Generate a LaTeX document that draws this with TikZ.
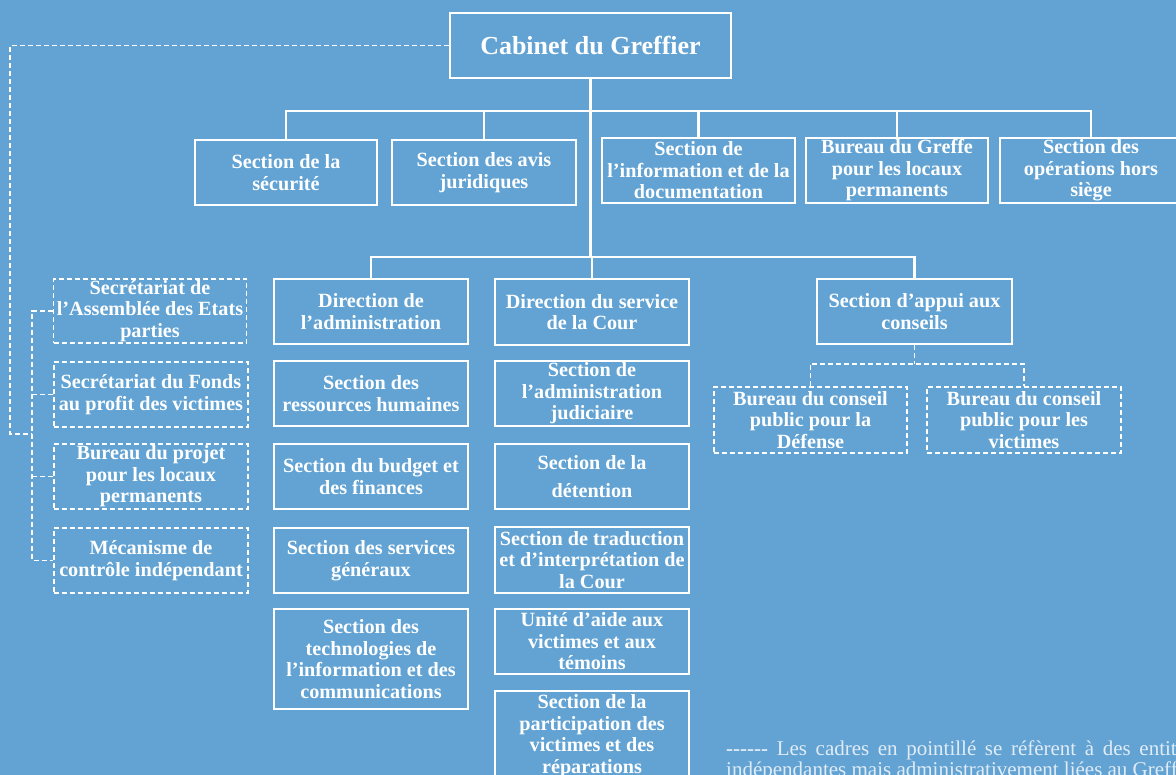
\documentclass[tikz,border=0pt]{standalone}
\usepackage{fontspec}
\setmainfont{Liberation Serif}
\definecolor{bg}{RGB}{98,163,211}
\definecolor{legendtext}{RGB}{225,236,246}
\tikzset{
  basebox/.style={draw=white, text=white, align=center, inner sep=0pt,
    font=\bfseries\fontsize{20.2}{21.5}\selectfont},
  thickbox/.style={basebox, line width=2.6pt},
  thinbox/.style={basebox, line width=1.4pt},
  dbox/.style={basebox, line width=1.4pt, dash pattern=on 5pt off 3pt},
  conn/.style={draw=white, line width=2.6pt},
  dconn/.style={draw=white, line width=1.4pt, dash pattern=on 5pt off 3pt},
}
\begin{document}
\begin{tikzpicture}[x=1pt,y=-1pt]
\fill[bg] (0,0) rectangle (1176,775);
\useasboundingbox (0,0) rectangle (1176,775);
\clip (0,0) rectangle (1176,775);

% top
\node[thickbox, minimum width=281, minimum height=65, font=\bfseries\fontsize{26}{28}\selectfont] (cab) at (590.5,45.5) {Cabinet du Greffier};

% row 1
\node[thickbox, minimum width=182, minimum height=65] (sec) at (286,172.5) {Section de la\\s\'ecurit\'e};
\node[thickbox, minimum width=184, minimum height=65] (avis) at (484,172.5) {Section des avis\\juridiques};
\node[thickbox, minimum width=193, minimum height=65] (info) at (698.5,170.5) {Section de\\l'information et de la\\documentation};
\node[thickbox, minimum width=182, minimum height=65] (gref) at (897,170.5) {Bureau du Greffe\\pour les locaux\\permanents};
\node[thickbox, minimum width=182, minimum height=65] (ops) at (1091,170.5) {Section des\\op\'erations hors\\si\`ege};

% level 2
\node[thickbox, minimum width=194, minimum height=65] (dadm) at (371,311.5) {Direction de\\l'administration};
\node[thickbox, minimum width=194, minimum height=66] (dserv) at (592,312) {Direction du service\\de la Cour};
\node[thickbox, minimum width=195, minimum height=65] (appui) at (914.5,311.5) {Section d'appui aux\\conseils};

% admin column
\node[thinbox, minimum width=194, minimum height=65] (rh) at (371,393.5) {Section des\\ressources humaines};
\node[thinbox, minimum width=194, minimum height=65] (bud) at (371,476.5) {Section du budget et\\des finances};
\node[thinbox, minimum width=194, minimum height=65] (sg) at (371,560.5) {Section des services\\g\'en\'eraux};
\node[thinbox, minimum width=194, minimum height=100] (tic) at (371,659) {Section des\\technologies de\\l'information et des\\communications};

% service column
\node[thinbox, minimum width=194, minimum height=65] (aj) at (592,393.5) {Section de\\l'administration\\judiciaire};
\node[thinbox, minimum width=194, minimum height=65] (det) at (592,476.5) {Section de la\\[6pt]d\'etention};
\node[thinbox, minimum width=194, minimum height=66] (trad) at (592,560) {Section de traduction\\et d'interpr\'etation de\\la Cour};
\node[thinbox, minimum width=194, minimum height=65] (uav) at (592,641.5) {Unit\'e d'aide aux\\victimes et aux\\t\'emoins};
\node[thinbox, minimum width=194, minimum height=90] (part) at (592,736) {Section de la\\participation des\\victimes et des\\r\'eparations};

% dashed left
\node[dbox, minimum width=193, minimum height=64] (sa) at (150,311) {Secr\'etariat de\\l'Assembl\'ee des Etats\\parties};
\node[dbox, minimum width=194, minimum height=65] (fv) at (151,394.5) {Secr\'etariat du Fonds\\au profit des victimes};
\node[dbox, minimum width=194, minimum height=65] (bp) at (151,476.5) {Bureau du projet\\pour les locaux\\permanents};
\node[dbox, minimum width=194, minimum height=65] (mc) at (151,560.5) {M\'ecanisme de\\contr\^ole ind\'ependant};

% dashed right
\node[dbox, minimum width=193, minimum height=66] (bdef) at (810.5,420) {Bureau du conseil\\public pour la\\D\'efense};
\node[dbox, minimum width=194, minimum height=66] (bvic) at (1024,420) {Bureau du conseil\\public pour les\\victimes};

% coordinates
\coordinate (topbar) at (0,111);
\coordinate (midbar) at (0,257);
\coordinate (dbar) at (0,364);
\coordinate (outer) at (10,434);
\coordinate (inner) at (32,0);

% solid connectors
\draw[conn] (cab.south) -- (cab.south |- midbar);
\draw[conn] (sec.north) -- (sec.north |- topbar) -| (ops.north);
\draw[conn] (avis.north) -- (avis.north |- topbar);
\draw[conn] (info.north) -- (info.north |- topbar);
\draw[conn] (gref.north) -- (gref.north |- topbar);
\draw[conn] (dadm.north) -- (dadm.north |- midbar) -| (appui.north);
\draw[conn] (dserv.north) -- (dserv.north |- midbar);

% dashed connectors
\draw[dconn] (appui.south) -- (appui.south |- dbar);
\draw[dconn] (bdef.north) -- (bdef.north |- dbar) -| (bvic.north);
\draw[dconn] (cab.west) -| (outer) -- (outer -| inner);
\draw[dconn] (sa.west) -- (sa.west -| inner) -- (mc.west -| inner) -- (mc.west);
\draw[dconn] (fv.west) -- (fv.west -| inner);
\draw[dconn] (bp.west) -- (bp.west -| inner);

% legend
\node[anchor=north west, text width=468pt, align=justify, inner sep=0pt,
  font=\fontsize{21}{21}\selectfont, text=legendtext] (leg) at (726,741)
  {\textbf{-{}-{}-{}-{}-{}-} Les cadres en pointill\'e se r\'ef\`erent \`a des entit\'es\linebreak \mbox{ind\'ependantes mais administrativement li\'ees au Greffe.}};
\end{tikzpicture}
\end{document}
